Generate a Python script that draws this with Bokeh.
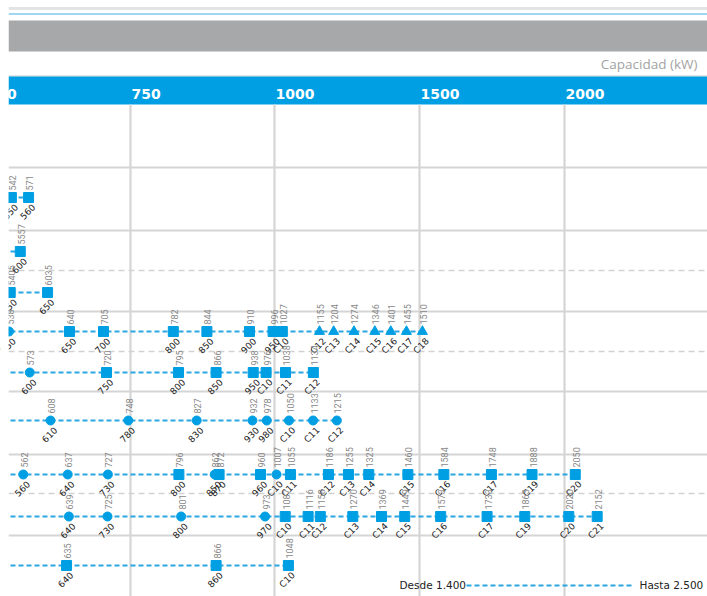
import math
from bokeh.plotting import figure
from bokeh.models import Range1d, ColumnDataSource, CustomJSTransform
from bokeh.transform import transform
from bokeh.core.properties import value
from bokeh.embed import file_html
from bokeh.resources import INLINE

# ---------------- data ----------------
TICKS_KW = [500, 750, 1000, 1500, 2000]
TICK_LABELS = ["500", "750", "1000", "1500", "2000"]
AXIS_TITLE = "Capacidad (kW)"

ROW_B_MODEL = ["550", "560"]
ROW_B_KW = [542, 571]
ROW_B_SHAPE = ["square", "square"]

ROW_C1_MODEL = ["600"]
ROW_C1_KW = [557]
ROW_C1_SHAPE = ["square"]
ROW_C1_TEXT = ["5557"]

ROW_C2_MODEL = ["550", "650"]
ROW_C2_KW = [540, 603]
ROW_C2_SHAPE = ["square", "square"]
ROW_C2_TEXT = ["5405", "6035"]

ROW_D1_MODEL = ["550", "650", "700", "800", "850", "900", "950", "C10",
                "C12", "C13", "C14", "C15", "C16", "C17", "C18"]
ROW_D1_KW = [538, 640, 705, 782, 844, 910, 996, 1027,
             1155, 1204, 1274, 1346, 1401, 1455, 1510]
ROW_D1_SHAPE = ["circle"] + ["square"] * 7 + ["triangle"] * 7

ROW_D2_MODEL = ["600", "750", "800", "850", "950", "C10", "C11", "C12"]
ROW_D2_KW = [573, 720, 795, 866, 938, 976, 1038, 1134]
ROW_D2_SHAPE = ["circle"] + ["square"] * 7

ROW_E_MODEL = ["610", "780", "830", "930", "980", "C10", "C11", "C12"]
ROW_E_KW = [608, 748, 827, 932, 978, 1050, 1133, 1215]
ROW_E_SHAPE = ["circle"] * 8

ROW_F1_MODEL = ["560", "640", "730", "800", "850", "870", "960", "C10", "C11",
                "C12", "C13", "C14", "C15", "C16", "C17", "C19", "C20"]
ROW_F1_KW = [562, 637, 727, 796, 862, 872, 960, 1007, 1055,
             1186, 1255, 1325, 1460, 1584, 1748, 1888, 2050]
ROW_F1_SHAPE = ["circle", "circle", "circle", "square", "circle", "square", "square",
                "circle"] + ["square"] * 9

ROW_F2_MODEL = ["640", "730", "800", "970", "C10", "C11", "C12", "C13", "C14",
                "C15", "C16", "C17", "C19", "C20", "C21"]
ROW_F2_KW = [639, 725, 801, 973, 1037, 1116, 1158, 1270, 1369,
             1449, 1573, 1733, 1863, 2020, 2152]
ROW_F2_SHAPE = ["circle"] * 4 + ["square"] * 11
ROW_F2_TEXT = [None, None, None, None, "1087"] + [None] * 10

ROW_G_MODEL = ["640", "860", "C10"]
ROW_G_KW = [635, 866, 1048]
ROW_G_SHAPE = ["square"] * 3

LEGEND_FROM = "Desde 1.400"
LEGEND_TO = "Hasta 2.500"

# ---------------- layout / style ----------------
# axis warp (the printed axis is not linear): knots kW -> page px
KNOT_KW = [500, 640, 705, 730, 750, 780, 800, 850, 870, 910, 940, 1000, 2000, 2200]
KNOT_PX = [-14, 69, 103, 108, 130, 172, 180, 210, 217, 249, 253, 274, 564, 607]

warp = CustomJSTransform(args=dict(kk=KNOT_KW, pp=KNOT_PX), v_func="""
const out = new Array(xs.length);
for (let i = 0; i < xs.length; i++) {
  const x = xs[i];
  let j = 0;
  while (j < kk.length - 2 && x > kk[j + 1]) j++;
  out[i] = pp[j] + (x - kk[j]) * (pp[j + 1] - pp[j]) / (kk[j + 1] - kk[j]);
}
return out;
""", func="""
let j = 0;
while (j < kk.length - 2 && x > kk[j + 1]) j++;
return pp[j] + (x - kk[j]) * (pp[j + 1] - pp[j]) / (kk[j + 1] - kk[j]);
""")

BLUE = "#009fe3"
LINE_BLUE = "#2aa6e0"
GRID = "#d5d5d5"
LEFT = 8

rows = [
    (ROW_B_MODEL, ROW_B_KW, ROW_B_SHAPE, None, 197),
    (ROW_C1_MODEL, ROW_C1_KW, ROW_C1_SHAPE, ROW_C1_TEXT, 251),
    (ROW_C2_MODEL, ROW_C2_KW, ROW_C2_SHAPE, ROW_C2_TEXT, 292),
    (ROW_D1_MODEL, ROW_D1_KW, ROW_D1_SHAPE, None, 331),
    (ROW_D2_MODEL, ROW_D2_KW, ROW_D2_SHAPE, None, 372),
    (ROW_E_MODEL, ROW_E_KW, ROW_E_SHAPE, None, 420),
    (ROW_F1_MODEL, ROW_F1_KW, ROW_F1_SHAPE, None, 474),
    (ROW_F2_MODEL, ROW_F2_KW, ROW_F2_SHAPE, ROW_F2_TEXT, 516),
    (ROW_G_MODEL, ROW_G_KW, ROW_G_SHAPE, None, 565),
]
SOLID_Y = [167, 230, 311, 391, 454, 535]
DASHED_Y = [270, 351, 493]
SIZE = {"square": 10, "circle": 9, "triangle": 10}

p = figure(width=707, height=596, x_range=Range1d(0, 707), y_range=Range1d(596, 0),
           output_backend="svg", toolbar_location=None, x_axis_type=None, y_axis_type=None,
           min_border=0, outline_line_color=None)
p.min_border_left = p.min_border_right = p.min_border_top = p.min_border_bottom = 0

# header
p.quad(left=LEFT, right=707, top=6.5, bottom=9.5, fill_color="#e1e3e4", line_color=None)
p.segment(x0=LEFT, y0=13.5, x1=707, y1=13.5, line_color="#82c9ec", line_width=1.5)
p.quad(left=LEFT, right=707, top=20, bottom=51, fill_color="#a7a8aa", line_color=None)
p.text(x=[697], y=[63], text=[AXIS_TITLE], text_align="right", text_baseline="middle",
       text_font=value("Open Sans"), text_font_size="13.5px", text_color="#a3a3a3")
p.segment(x0=LEFT, y0=75.5, x1=707, y1=75.5, line_color="#dcdcdc", line_width=1.5)
p.quad(left=LEFT, right=707, top=76, bottom=104, fill_color=BLUE, line_color=None)

tick_src = ColumnDataSource(dict(kw=TICKS_KW, lab=TICK_LABELS))
p.text(x=transform("kw", warp), y=93, text="lab", source=tick_src, x_offset=1,
       text_align="left", text_baseline="middle", text_font=value("DejaVu Sans"),
       text_font_style="bold", text_font_size="14px", text_color="white")

# grid
p.segment(x0=transform("kw", warp), y0=104, x1=transform("kw", warp), y1=596,
          source=ColumnDataSource(dict(kw=TICKS_KW[1:])), line_color=GRID, line_width=2.2)
for yy in SOLID_Y:
    p.segment(x0=LEFT, y0=yy, x1=707, y1=yy, line_color=GRID, line_width=2.2)
for yy in DASHED_Y:
    p.segment(x0=LEFT, y0=yy, x1=707, y1=yy, line_color="#d2d2d2", line_width=1.5,
              line_dash="6 4")

# rows
for models, kws, shapes, texts, yy in rows:
    seg = ColumnDataSource(dict(x0=[TICKS_KW[0]], x1=[max(kws)], y=[yy]))
    p.segment(x0=transform("x0", warp), y0="y", x1=transform("x1", warp), y1="y",
              source=seg, line_color=LINE_BLUE, line_width=2, line_dash="5 3")
    labs = [(t if t else str(k)) for t, k in zip(texts or [None] * len(kws), kws)]
    src = ColumnDataSource(dict(kw=kws, y=[yy] * len(kws), shape=shapes,
                                size=[SIZE[s] for s in shapes], model=models, lab=labs,
                                ytop=[yy - 7] * len(kws), ybot=[yy + 8] * len(kws)))
    p.scatter(x=transform("kw", warp), y="y", marker="shape", size="size", source=src,
              fill_color=BLUE, line_color=BLUE)
    p.text(x=transform("kw", warp), y="ytop", text="lab", source=src, x_offset=1,
           angle=math.pi / 2, text_align="left", text_baseline="middle",
           text_font=value("Roboto"), text_font_size="9px", text_color="#888888")
    p.text(x=transform("kw", warp), y="ybot", text="model", source=src, x_offset=5,
           angle=math.pi / 4, text_align="right", text_baseline="middle",
           text_font=value("DejaVu Sans"), text_font_size="9px", text_color="#222222")

# left white page margin (content of the crop starts at x=8)
p.quad(left=0, right=LEFT, top=0, bottom=596, fill_color="white", line_color=None)

# legend
p.text(x=[399], y=[584], text=[LEGEND_FROM], text_align="left", text_baseline="middle",
       text_font=value("DejaVu Sans"), text_font_size="10.5px", text_color="#222222")
p.segment(x0=466, y0=585, x1=633, y1=585, line_color=LINE_BLUE, line_width=2,
          line_dash="5 3")
p.text(x=[639], y=[584], text=[LEGEND_TO], text_align="left", text_baseline="middle",
       text_font=value("DejaVu Sans"), text_font_size="10.5px", text_color="#222222")

open("out.html", "w").write(file_html(p, INLINE))
